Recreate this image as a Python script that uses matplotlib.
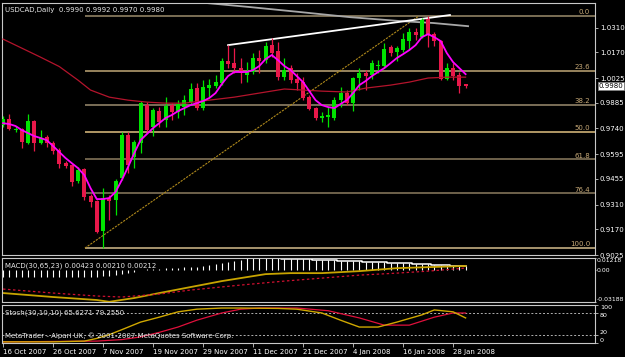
import numpy as np
import matplotlib.pyplot as plt

# USDCAD daily, 16 Oct 2007 - 30 Jan 2008 (one entry per bar)
opens = [0.9759, 0.9793, 0.9734, 0.9737, 0.9657, 0.9782, 0.9657, 0.9691, 0.9657, 0.9618,
         0.9544, 0.9533, 0.9443, 0.9511, 0.9358, 0.9330, 0.9160, 0.9347, 0.9335, 0.9460,
         0.9703, 0.9578, 0.9657, 0.9872, 0.9748, 0.9838, 0.9787, 0.9872, 0.9833, 0.9861,
         0.9889, 0.9968, 0.9855, 0.9968, 0.9980, 0.9996, 1.0121, 1.0109, 1.0081, 1.0042,
         1.0059, 1.0138, 1.0126, 1.0211, 1.0177, 1.0030, 1.0081, 1.0019, 1.0002, 0.9917,
         0.9855, 0.9799, 0.9804, 0.9799, 0.9900, 0.9940, 0.9883, 1.0025, 1.0053, 1.0042,
         1.0095, 1.0093, 1.0200, 1.0172, 1.0183, 1.0234, 1.0285, 1.0256, 1.0358, 1.0273,
         1.0234, 1.0019, 1.0081, 1.0042, 0.9990]
highs = [0.9810, 0.9821, 0.9754, 0.9742, 0.9821, 0.9787, 0.9731, 0.9703, 0.9669, 0.9629,
         0.9556, 0.9539, 0.9522, 0.9516, 0.9369, 0.9335, 0.9403, 0.9364, 0.9454, 0.9720,
         0.9720, 0.9674, 0.9895, 0.9889, 0.9855, 0.9861, 0.9917, 0.9883, 0.9900, 0.9929,
         0.9996, 0.9996, 1.0013, 1.0019, 1.0042, 1.0138, 1.0211, 1.0194, 1.0138, 1.0115,
         1.0166, 1.0183, 1.0228, 1.0251, 1.0228, 1.0138, 1.0098, 1.0053, 1.0030, 0.9929,
         0.9861, 0.9833, 0.9861, 0.9917, 0.9974, 0.9957, 1.0030, 1.0081, 1.0070, 1.0126,
         1.0126, 1.0222, 1.0211, 1.0206, 1.0279, 1.0307, 1.0307, 1.0364, 1.0375, 1.0285,
         1.0239, 1.0109, 1.0109, 1.0059, 0.9992]
lows = [0.9748, 0.9731, 0.9720, 0.9629, 0.9652, 0.9612, 0.9652, 0.9635, 0.9595, 0.9516,
        0.9516, 0.9415, 0.9431, 0.9335, 0.9296, 0.9149, 0.9064, 0.9222, 0.9251, 0.9448,
        0.9488, 0.9516, 0.9601, 0.9720, 0.9697, 0.9748, 0.9748, 0.9787, 0.9799, 0.9816,
        0.9878, 0.9844, 0.9844, 0.9917, 0.9968, 0.9985, 1.0081, 1.0053, 0.9996, 1.0002,
        1.0047, 1.0053, 1.0109, 1.0143, 1.0013, 1.0013, 0.9996, 0.9957, 0.9900, 0.9844,
        0.9787, 0.9776, 0.9748, 0.9787, 0.9861, 0.9872, 0.9838, 0.9957, 0.9957, 1.0019,
        1.0053, 1.0087, 1.0149, 1.0121, 1.0172, 1.0183, 1.0239, 1.0251, 1.0200, 1.0206,
        1.0013, 1.0013, 1.0013, 0.9940, 0.9970]
closes = [0.9793, 0.9737, 0.9737, 0.9663, 0.9782, 0.9657, 0.9686, 0.9657, 0.9612, 0.9539,
          0.9528, 0.9437, 0.9505, 0.9352, 0.9324, 0.9155, 0.9347, 0.9330, 0.9443, 0.9703,
          0.9533, 0.9663, 0.9883, 0.9731, 0.9844, 0.9776, 0.9867, 0.9833, 0.9878, 0.9900,
          0.9963, 0.9855, 0.9974, 0.9985, 1.0002, 1.0121, 1.0104, 1.0081, 1.0053, 1.0059,
          1.0138, 1.0121, 1.0206, 1.0166, 1.0030, 1.0070, 1.0013, 0.9996, 0.9912, 0.9850,
          0.9799, 0.9810, 0.9816, 0.9900, 0.9940, 0.9883, 1.0025, 1.0053, 1.0036, 1.0109,
          1.0098, 1.0189, 1.0166, 1.0194, 1.0245, 1.0285, 1.0268, 1.0352, 1.0268, 1.0234,
          1.0019, 1.0081, 1.0036, 0.9980, 0.9980]

# short moving average (magenta), read per bar
ma_fast = [0.9770, 0.9765, 0.9754, 0.9731, 0.9714, 0.9697, 0.9686, 0.9674, 0.9641, 0.9607,
           0.9573, 0.9544, 0.9516, 0.9477, 0.9403, 0.9341, 0.9341, 0.9347, 0.9381, 0.9448,
           0.9522, 0.9601, 0.9674, 0.9708, 0.9742, 0.9770, 0.9799, 0.9816, 0.9838, 0.9855,
           0.9872, 0.9883, 0.9895, 0.9912, 0.9940, 0.9991, 1.0036, 1.0059, 1.0059, 1.0059,
           1.0070, 1.0093, 1.0132, 1.0155, 1.0126, 1.0093, 1.0070, 1.0036, 1.0002, 0.9951,
           0.9900, 0.9872, 0.9861, 0.9855, 0.9878, 0.9900, 0.9940, 0.9985, 1.0008, 1.0036,
           1.0059, 1.0081, 1.0109, 1.0138, 1.0160, 1.0183, 1.0211, 1.0256, 1.0273, 1.0256,
           1.0234, 1.0166, 1.0115, 1.0081, 1.0047]

# medium moving average (dark red) and long one (silver), read at some bars
ma_mid_idx = [0, 3, 6, 9, 12, 14, 17, 20, 23, 26, 29, 33, 37, 41, 45, 48, 51, 55, 58, 62, 65, 68, 71, 74]
ma_mid = [1.0245, 1.0194, 1.0143, 1.0090, 1.0013, 0.9957, 0.9917, 0.9900, 0.9889, 0.9883,
          0.9883, 0.9900, 0.9917, 0.9940, 0.9963, 0.9957, 0.9951, 0.9946, 0.9968, 0.9985,
          1.0002, 1.0025, 1.0030, 1.0030]
ma_slow_idx = [22, 26, 31, 39.5, 47.5, 55.5, 63.5, 68.8, 74.4]
ma_slow = [1.0490, 1.0472, 1.0454, 1.0426, 1.0398, 1.0369, 1.0347, 1.0336, 1.0318]

# white trend line over the December highs
trend_idx = [36, 71.5]
trend_val = [1.0211, 1.0381]

# Fibonacci retracement
fib_ratios = [0.0, 23.6, 38.2, 50.0, 61.8, 76.4, 100.0]
fib_idx = [13.1, 66.5]

# MACD(30,65,23)
macd_hist = [-0.007, -0.007, -0.007, -0.007, -0.007, -0.007, -0.007, -0.007, -0.007, -0.007,
             -0.007, -0.007, -0.007, -0.007, -0.007, -0.007, -0.006, -0.006, -0.005, -0.004,
             -0.003, -0.002, 0.0005, 0.001, 0.001, 0.0015, 0.002, 0.002, 0.0025, 0.003,
             0.003, 0.0035, 0.004, 0.005, 0.006, 0.007, 0.008, 0.009, 0.010, 0.012,
             0.012, 0.012, 0.012, 0.012, 0.012, 0.011, 0.011, 0.011, 0.011, 0.011,
             0.010, 0.010, 0.010, 0.010, 0.009, 0.009, 0.009, 0.009, 0.008, 0.008,
             0.008, 0.008, 0.007, 0.007, 0.007, 0.007, 0.006, 0.006, 0.006, 0.005,
             0.005, 0.005, 0.004, 0.004, 0.004]
macd_idx = [0, 8, 15, 17, 21, 25, 30, 35, 38, 42, 46, 51, 57, 63, 68, 74]
macd_main = [-0.023, -0.027, -0.030, -0.0318, -0.028, -0.023, -0.017, -0.011, -0.008, -0.004,
             -0.003, -0.003, -0.001, 0.002, 0.003, 0.0042]
sig_idx = [0, 8, 15, 19, 25, 30, 38, 45, 51, 57, 63, 68, 74]
macd_sig = [-0.019, -0.023, -0.026, -0.027, -0.024, -0.020, -0.015, -0.011, -0.008, -0.005,
            -0.003, -0.001, 0.0021]

# Stochastic(30,10,10)
stk_idx = [0, 8, 13, 15, 17, 19, 22, 25, 28, 31, 35, 38, 44, 47, 51, 54, 57, 60, 63, 67, 69, 72, 74]
stk_main = [3, 3, 5, 12, 22, 35, 55, 68, 82, 89, 92, 92, 91, 89, 79, 60, 42, 42, 55, 74, 87, 82, 66]
std_idx = [0, 15, 19, 22, 25, 28, 31, 35, 38, 41, 47, 52, 57, 61, 65, 69, 72, 74]
std_sig = [3, 5, 9, 16, 28, 42, 60, 79, 89, 92, 92, 85, 66, 47, 47, 68, 79, 79]

price_ticks = [1.0310, 1.0170, 1.0025, 0.9885, 0.9740, 0.9595, 0.9455, 0.9310, 0.9170, 0.9025]
date_idx = [0, 8, 16, 24, 32, 40, 48, 56, 64, 72]
date_lbl = ['16 Oct 2007', '26 Oct 2007', '7 Nov 2007', '19 Nov 2007', '29 Nov 2007',
            '11 Dec 2007', '21 Dec 2007', '4 Jan 2008', '16 Jan 2008', '28 Jan 2008']

opens = np.array(opens); highs = np.array(highs)
lows = np.array(lows); closes = np.array(closes)
idx = np.arange(len(closes))

W, H = 625, 357
FS = 5
plt.rcParams['font.family'] = 'DejaVu Sans'
fig = plt.figure(figsize=(W / 100, H / 100), dpi=100, facecolor='black')


def panel(x0, y0, x1, y1):
    ax = fig.add_axes([x0 / W, 1 - y1 / H, (x1 - x0) / W, (y1 - y0) / H], facecolor='black')
    for s in ax.spines.values():
        s.set_color('#c8c8c8')
        s.set_linewidth(0.8)
    ax.set_xlim(-0.16, 94.7)
    ax.yaxis.tick_right()
    ax.tick_params(axis='y', colors='#c8c8c8', labelcolor='white', labelsize=FS,
                   length=2, width=0.6, pad=1.5)
    ax.tick_params(axis='x', bottom=False, labelbottom=False)
    return ax


ax1 = panel(2, 3, 595, 255)
ax2 = panel(2, 258, 595, 302)
ax3 = panel(2, 305, 595, 343)

#%% main chart
ax1.set_ylim(0.9025, 1.0449)
ax1.set_yticks(price_ticks)
ax1.set_yticklabels(['%.4f' % p for p in price_ticks])

fib_hi = highs.max()
fib_lo = lows.min()
fib_cols = ['#9c8c6c', '#c0a878', '#9c8c70', '#e0c080', '#8c7c60', '#8c7c60', '#d4bc8c']
for r, c in zip(fib_ratios, fib_cols):
    lvl = fib_hi - r / 100 * (fib_hi - fib_lo)
    ax1.hlines(lvl, fib_idx[0], 94.7, colors=c, lw=1.1, zorder=1)
    ax1.text(93.9, lvl + 0.0004, '%.1f' % r, color='#c8aa78', fontsize=FS,
             ha='right', va='bottom', zorder=5)
ax1.plot(fib_idx, [fib_lo, fib_hi], color='#b08a1c', lw=0.8, ls=(0, (2, 1)), zorder=2)

ax1.plot(ma_slow_idx, ma_slow, color='#a8a8a8', lw=1.3, zorder=2)
ax1.plot(trend_idx, trend_val, color='white', lw=1.3, zorder=2)

up = closes >= opens
cols = np.where(up, '#00e400', '#e8184a')
ax1.vlines(idx, lows, highs, colors=cols, lw=0.9, zorder=3)
ax1.bar(idx, np.maximum(np.abs(closes - opens), 0.0004), bottom=np.minimum(opens, closes),
        width=0.64, color=cols, zorder=4)

ax1.plot(ma_mid_idx, ma_mid, color='#b4142c', lw=0.9, zorder=5)
ax1.plot(idx, ma_fast, color='#ff00ff', lw=1.3, zorder=6)

ax1.text(0.005, 0.985, 'USDCAD,Daily  0.9990 0.9992 0.9970 0.9980', transform=ax1.transAxes,
         color='#e8e8e8', fontsize=FS, va='top', ha='left')
ax1.text(1.006, closes[-1], '%.4f' % closes[-1], transform=ax1.get_yaxis_transform(),
         color='black', fontsize=FS, va='center', ha='left', clip_on=False, zorder=10,
         bbox=dict(boxstyle='square,pad=0.15', fc='white', ec='#808080', lw=0.6))

#%% MACD
ax2.set_ylim(-0.0320, 0.0122)
ax2.vlines(idx, 0, macd_hist, colors='white', lw=0.8)
ax2.step(idx[39:], macd_hist[39:], where='mid', color='white', lw=1.1)
ax2.plot(macd_idx, macd_main, color='#c8a400', lw=1.3)
ax2.plot(sig_idx, macd_sig, color='#d01030', lw=0.9, ls=(0, (2, 2)))
ax2.set_yticks([0.0122, 0.0, -0.0320])
ax2.set_yticklabels(['0.01218', '0.00', '-0.03188'])
ax2.tick_params(axis='y', labelsize=4.4, pad=0.5, length=1)
tl = ax2.get_yticklabels()
tl[0].set_va('top')
tl[2].set_va('bottom')
ax2.text(0.005, 0.9, 'MACD(30,65,23) 0.00423 0.00210 0.00212', transform=ax2.transAxes,
         color='#e8e8e8', fontsize=FS, va='top', ha='left')

#%% Stochastic
ax3.set_ylim(0, 100)
ax3.axhline(80, color='#b0b0b0', lw=0.7, ls=(0, (2, 2)))
ax3.axhline(20, color='#b0b0b0', lw=0.7, ls=(0, (2, 2)))
ax3.plot(std_idx, std_sig, color='#e0103c', lw=0.9)
ax3.plot(stk_idx, stk_main, color='#d0a800', lw=1.0)
ax3.set_yticks([100, 80, 20, 0])
ax3.set_yticklabels(['100', '80', '20', '0'])
ax3.tick_params(axis='y', labelsize=4.6)
tl = ax3.get_yticklabels()
tl[0].set_va('top')
tl[1].set_va('top')
tl[2].set_va('bottom')
tl[3].set_va('bottom')
ax3.text(0.005, 80, 'Stoch(30,10,10) 65.6271 79.2550', transform=ax3.get_yaxis_transform(),
         color='#e8e8e8', fontsize=FS, va='center', ha='left')
ax3.text(0.005, 20, 'MetaTrader - Alpari UK, \u00a9 2001-2007 MetaQuotes Software Corp.',
         transform=ax3.get_yaxis_transform(), color='#e8e8e8', fontsize=FS,
         va='center', ha='left')

ax3.set_xticks(date_idx)
ax3.set_xticklabels(date_lbl)
ax3.tick_params(axis='x', bottom=True, labelbottom=True, colors='#c8c8c8', labelcolor='white',
                labelsize=FS, length=3, width=0.6, pad=1)
for lbl in ax3.get_xticklabels():
    lbl.set_ha('left')

fig.savefig('out.png', dpi=100, facecolor='black')
